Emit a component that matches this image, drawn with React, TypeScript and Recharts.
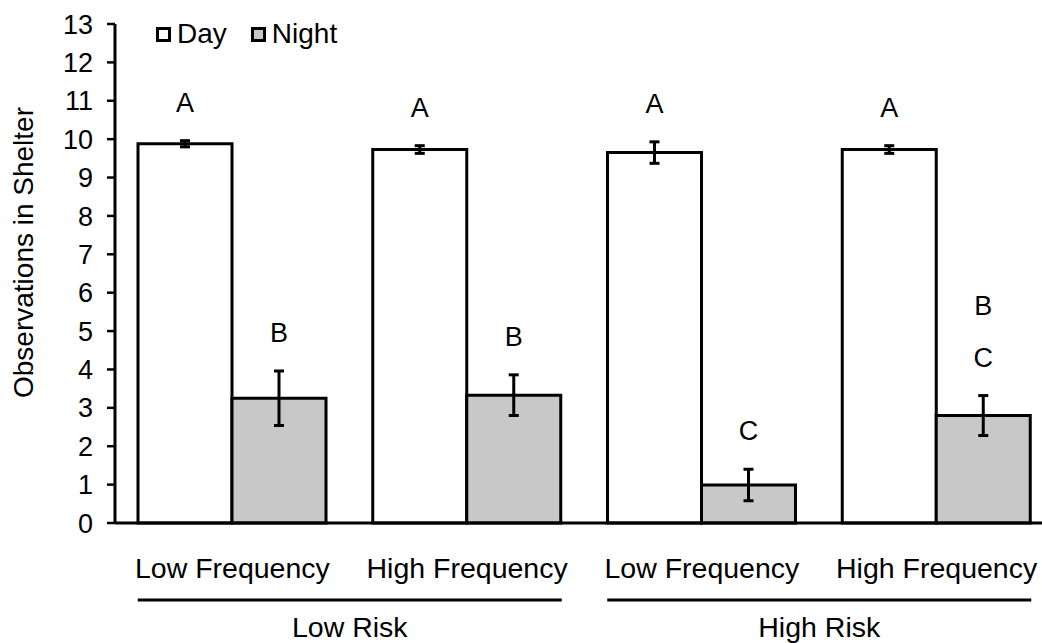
import { Bar, BarChart, ErrorBar, LabelList, Legend, XAxis, YAxis } from 'recharts';

const FONT = '"Liberation Sans", Arial, sans-serif';

// Observations in shelter, mean ± error, per treatment
const categories = ['Low Frequency', 'High Frequency', 'Low Frequency', 'High Frequency'];
const riskGroups = ['Low Risk', 'Low Risk', 'High Risk', 'High Risk'];
const dayMeans = [9.88, 9.73, 9.65, 9.73];
const dayErrors = [0.08, 0.1, 0.28, 0.1];
const nightMeans = [3.25, 3.33, 0.99, 2.8];
const nightErrors = [0.71, 0.53, 0.41, 0.52];
const dayLetters = [['A'], ['A'], ['A'], ['A']];
const nightLetters = [['B'], ['B'], ['C'], ['B', 'C']];
const yTicks = [0, 1, 2, 3, 4, 5, 6, 7, 8, 9, 10, 11, 12, 13];

const data = categories.map((label, i) => ({
  label,
  risk: riskGroups[i],
  day: dayMeans[i],
  dayErr: dayErrors[i],
  night: nightMeans[i],
  nightErr: nightErrors[i],
}));

// significance letters sit a fixed distance above the error bar top
const letterLabel = (letters: string[][], errors: number[]) => (props: any) => {
  const { x, y, width, height, value, index } = props;
  const pxPerUnit = height / value;
  const errTop = y - errors[index] * pxPerUnit;
  const stack = letters[index] || [];
  return (
    <g>
      {stack.map((t, k) => (
        <text
          key={k}
          x={x + width / 2}
          y={errTop - 39 - (stack.length - 1 - k) * 52 + 10}
          textAnchor='middle'
          fontSize={27}
          fill='#000'
        >
          {t}
        </text>
      ))}
    </g>
  );
};

const renderCategoryTick = ({ x, y, payload }: any) => (
  <text x={x} y={y + 55} textAnchor='middle' fontSize={28.5} fill='#000'>
    {categories[payload.index] ?? payload.value}
  </text>
);

const renderRiskTick = ({ x, y, payload }: any) => (
  <g>
    <line x1={x - 212} x2={x + 212} y1={y + 7} y2={y + 7} stroke='#000' strokeWidth={3} />
    <text x={x} y={y + 44} textAnchor='middle' fontSize={28.5} fill='#000'>
      {payload.value}
    </text>
  </g>
);

const renderLegend = (props: any) => (
  <div style={{ display: 'flex', alignItems: 'center', fontSize: 28, fontFamily: FONT, color: '#000' }}>
    {(props.payload || []).map((entry: any) => (
      <span key={entry.value} style={{ display: 'inline-flex', alignItems: 'center', marginRight: 24 }}>
        <span
          style={{
            display: 'inline-block',
            width: 15,
            height: 15,
            boxSizing: 'border-box',
            border: '3px solid #000',
            background: entry.color,
            marginRight: 6,
          }}
        />
        {entry.value}
      </span>
    ))}
  </div>
);

const renderYLabel = ({ viewBox }: any) => {
  const cx = 33;
  const cy = viewBox.y + viewBox.height / 2 - 21;
  return (
    <text x={cx} y={cy} transform={`rotate(-90 ${cx} ${cy})`} textAnchor='middle' fontSize={28} fill='#000'>
      Observations in Shelter
    </text>
  );
};

export default function App() {
  return (
    <div
      style={{
        position: 'fixed',
        left: 0,
        top: 0,
        width: 1042,
        height: 643,
        overflow: 'hidden',
        background: '#fff',
        fontFamily: FONT,
      }}
    >
      <BarChart
        width={1070}
        height={643}
        data={data}
        margin={{ top: 24, right: 16, bottom: 0, left: 0 }}
        barCategoryGap={23}
        barGap={0}
      >
        <XAxis
          dataKey='label'
          height={70}
          interval={0}
          tickSize={0}
          tickMargin={0}
          tickLine={false}
          axisLine={{ stroke: '#000', strokeWidth: 3 }}
          tick={renderCategoryTick}
        />
        <XAxis
          xAxisId='risk'
          dataKey='risk'
          allowDuplicatedCategory={false}
          height={50}
          interval={0}
          tickSize={0}
          tickMargin={0}
          tickLine={false}
          axisLine={false}
          tick={renderRiskTick}
        />
        <YAxis
          type='number'
          domain={[0, 13]}
          ticks={yTicks}
          interval={0}
          width={115}
          tickSize={8}
          tickMargin={14}
          axisLine={{ stroke: '#000', strokeWidth: 3 }}
          tickLine={{ stroke: '#000', strokeWidth: 2.5 }}
          tick={{ fill: '#000', fontSize: 27 }}
          label={{ content: renderYLabel }}
        />
        <Legend
          layout='horizontal'
          verticalAlign='middle'
          align='center'
          content={renderLegend}
          wrapperStyle={{ top: 18, left: 156, width: 'auto' }}
        />
        <Bar dataKey='day' name='Day' fill='#ffffff' stroke='#000' strokeWidth={3} isAnimationActive={false}>
          <ErrorBar dataKey='dayErr' width={5} stroke='#000' strokeWidth={3} />
          <LabelList dataKey='day' content={letterLabel(dayLetters, dayErrors)} />
        </Bar>
        <Bar dataKey='night' name='Night' fill='#c8c8c8' stroke='#000' strokeWidth={3} isAnimationActive={false}>
          <ErrorBar dataKey='nightErr' width={5} stroke='#000' strokeWidth={3} />
          <LabelList dataKey='night' content={letterLabel(nightLetters, nightErrors)} />
        </Bar>
      </BarChart>
    </div>
  );
}
